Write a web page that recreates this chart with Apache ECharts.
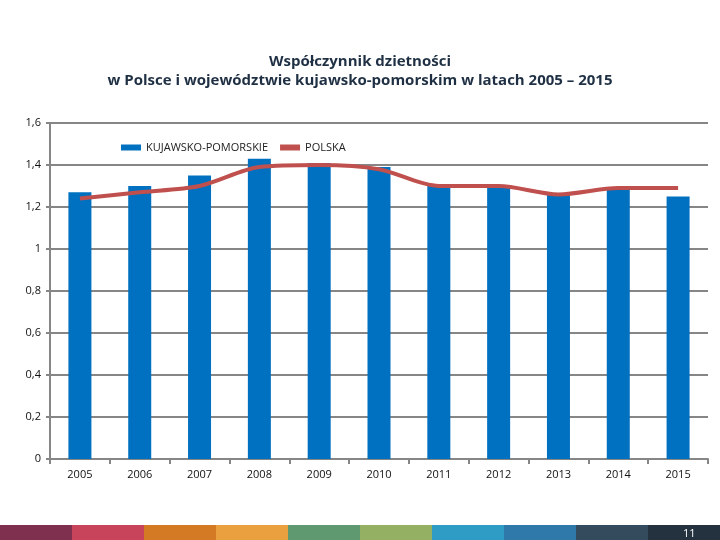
<!DOCTYPE html>
<html><head><meta charset="utf-8">
<script src="https://cdn.jsdelivr.net/npm/echarts@6/dist/echarts.min.js"></script>
<style>html,body{margin:0;padding:0;background:#fff}#c{width:720px;height:540px}</style>
</head><body><div id="c"></div>
<script>
var years = ['2005','2006','2007','2008','2009','2010','2011','2012','2013','2014','2015'];
var kujawsko = [1.27,1.30,1.35,1.43,1.41,1.39,1.30,1.30,1.26,1.29,1.25];
var polska = [1.24,1.27,1.30,1.39,1.40,1.38,1.30,1.30,1.26,1.29,1.29];
var stripColors = ['#80304F','#C8445A','#D47A25','#EBA040','#5E9970','#93B063','#2E9CC5','#2E78AA','#334B5C','#243240'];

var graphics = stripColors.map(function(c,i){
  return {type:'rect', left:i*72, top:525, shape:{width:72,height:15}, style:{fill:c}, silent:true};
});
graphics.push({type:'text', left:683, top:528, style:{text:'11', fill:'#fff', font:'11px "Open Sans", sans-serif'}});

var chart = echarts.init(document.getElementById('c'));
chart.setOption({
  animation:false,
  title:{
    text:'Współczynnik dzietności\nw Polsce i województwie kujawsko-pomorskim w latach 2005 – 2015',
    left:'center', top:47,
    textStyle:{fontFamily:'"Open Sans", sans-serif', fontSize:15, fontWeight:'bold', color:'#1F3044', lineHeight:19}
  },
  legend:{
    top:137, left:116, itemGap:12, itemWidth:20, itemHeight:6,
    textStyle:{fontFamily:'"Open Sans", sans-serif', fontSize:11, color:'#222'},
    data:[{name:'KUJAWSKO-POMORSKIE', icon:'rect'},{name:'POLSKA', icon:'rect'}]
  },
  grid:{left:50, right:12, top:123, bottom:81},
  xAxis:{
    type:'category', data:years, boundaryGap:true,
    axisLine:{lineStyle:{color:'#868686', width:2}},
    axisTick:{show:true, length:5, lineStyle:{color:'#868686', width:2}},
    axisLabel:{fontFamily:'"Open Sans", sans-serif', fontSize:11, color:'#111', margin:10}
  },
  yAxis:{
    type:'value', min:0, max:1.6, interval:0.2,
    axisLine:{show:true, lineStyle:{color:'#868686', width:2}},
    axisTick:{show:true, length:4, lineStyle:{color:'#868686', width:2}},
    splitLine:{lineStyle:{color:'#868686', width:2}},
    axisLabel:{fontFamily:'"Open Sans", sans-serif', fontSize:11, color:'#111', margin:9,
      formatter:function(v){return String(Math.round(v*10)/10).replace('.',',');}}
  },
  series:[
    {name:'KUJAWSKO-POMORSKIE', type:'bar', data:kujawsko, barWidth:23, itemStyle:{color:'#0070C0'}},
    {name:'POLSKA', type:'line', data:polska, smooth:0.3, symbol:'none',
      lineStyle:{color:'#C0504D', width:4}, itemStyle:{color:'#C0504D'}}
  ],
  graphic:graphics
});
</script></body></html>
